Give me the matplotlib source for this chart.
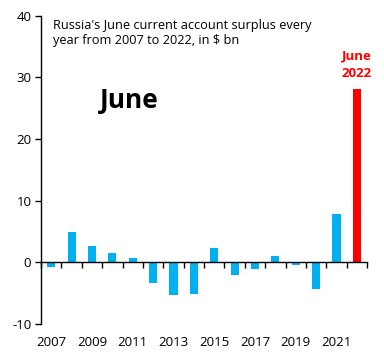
import numpy as np
import matplotlib
matplotlib.use("Agg")
import matplotlib.pyplot as plt
from matplotlib.ticker import FixedLocator

# Russia's June current account balance, $ bn
years = list(range(2007, 2023))
values = [-0.7, 5.0, 2.6, 1.6, 0.65, -3.4, -5.3, -5.1, 2.4, -2.1, -1.1, 1.1, -0.5, -4.35, 7.9, 28.2]
labelled_years = [2007, 2009, 2011, 2013, 2015, 2017, 2019, 2021]
yticks = [-10, 0, 10, 20, 30, 40]

blue = "#00B0F0"
red = "#FF0000"
plt.rcParams["font.family"] = ["Open Sans", "DejaVu Sans"]
plt.rcParams["axes.unicode_minus"] = False

fig = plt.figure(figsize=(3.84, 3.6), dpi=100)
ax = fig.add_axes([0.107, 0.10, 0.849, 0.856])

x = np.arange(len(years))
colors = [red if y == 2022 else blue for y in years]
ax.bar(x, values, width=0.4, color=colors, zorder=2)

ax.set_xlim(-0.5, len(years) - 0.5)
ax.set_ylim(-10, 40)
ax.set_yticks(yticks)
ax.tick_params(axis="y", length=4, width=1, pad=3, labelsize=9.5, direction="out")

for s in ["top", "right"]:
    ax.spines[s].set_visible(False)
ax.spines["bottom"].set_position(("data", 0))
ax.spines["left"].set_linewidth(1)
ax.spines["bottom"].set_linewidth(1)

# tick marks at category boundaries, labels placed low
ax.xaxis.set_major_locator(FixedLocator(np.arange(len(years) + 1) - 0.5))
ax.set_xticklabels([])
ax.tick_params(axis="x", length=4, width=1, direction="out")
for yr in labelled_years:
    ax.text(years.index(yr), -0.04, str(yr), transform=ax.get_xaxis_transform(),
            ha="center", va="top", fontsize=9.5)

ax.text(0.037, 0.99, "Russia's June current account surplus every\nyear from 2007 to 2022, in $ bn",
        transform=ax.transAxes, ha="left", va="top", fontsize=9.2, linespacing=1.25)
ax.text(0.18, 0.725, "June", transform=ax.transAxes, ha="left", va="center",
        fontsize=19, fontweight="bold")
ax.text(years.index(2022), 29.6, "June\n2022", ha="center", va="bottom",
        color=red, fontsize=9.5, fontweight="bold", linespacing=1.5)

fig.savefig("out.png", dpi=100)
